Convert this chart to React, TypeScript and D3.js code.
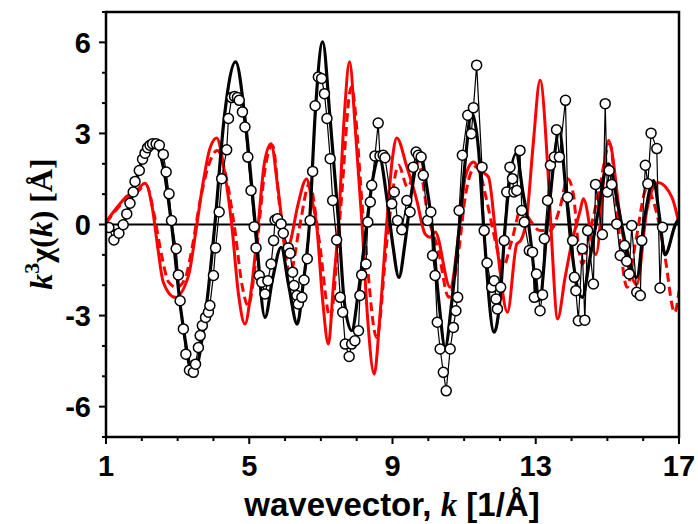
import React from "react";
import * as d3 from "d3";

// Experimental data (circles): k, value
const dataK = [1.08,1.22,1.36,1.48,1.58,1.67,1.76,1.81,1.93,2.02,2.09,2.16,2.23,2.30,2.40,2.49,2.60,2.68,2.76,2.83,2.96,3.02,3.07,3.16,3.23,3.33,3.44,3.50,3.58,3.63,3.69,3.78,3.86,3.90,4.00,4.06,4.16,4.23,4.37,4.42,4.51,4.59,4.67,4.72,4.81,4.88,4.96,5.05,5.14,5.19,5.28,5.35,5.44,5.52,5.61,5.68,5.72,5.79,5.89,5.95,6.09,6.14,6.21,6.25,6.33,6.37,6.47,6.53,6.62,6.70,6.77,6.84,6.93,7.02,7.10,7.17,7.26,7.33,7.44,7.54,7.61,7.68,7.79,7.86,7.95,8.05,8.09,8.14,8.26,8.31,8.38,8.42,8.51,8.60,8.65,8.74,8.79,8.98,9.05,9.14,9.26,9.40,9.49,9.58,9.66,9.72,9.80,9.86,9.98,10.07,10.12,10.19,10.25,10.33,10.42,10.50,10.61,10.70,10.77,10.82,10.86,10.95,11.10,11.20,11.26,11.35,11.50,11.56,11.64,11.77,11.84,11.89,11.93,12.02,12.12,12.19,12.28,12.35,12.39,12.47,12.56,12.61,12.68,12.82,12.91,12.96,13.02,13.12,13.19,13.24,13.33,13.41,13.52,13.58,13.66,13.83,13.89,14.03,14.08,14.12,14.19,14.30,14.37,14.45,14.61,14.67,14.86,14.94,15.00,15.05,15.12,15.26,15.36,15.48,15.54,15.61,15.68,15.82,15.92,15.96,16.06,16.13,16.22,16.38,16.47,16.54];
const dataV = [-0.10,-0.51,-0.29,-0.01,0.35,0.70,1.07,1.42,1.78,2.15,2.35,2.53,2.61,2.66,2.66,2.61,2.31,1.73,1.01,0.13,-0.80,-1.66,-2.51,-3.44,-4.27,-4.80,-4.87,-4.60,-4.05,-3.66,-3.33,-3.06,-2.89,-2.67,-1.68,-0.77,0.41,1.51,2.46,3.49,4.18,4.22,4.18,4.09,3.71,3.21,2.22,1.12,-0.07,-0.77,-1.68,-1.90,-2.29,-1.85,-1.30,-0.53,0.15,0.19,0.02,-0.29,-0.77,-0.95,-1.57,-2.01,-2.34,-2.62,-2.40,-1.83,-1.13,0.13,1.75,3.91,4.86,4.81,4.31,3.49,2.17,0.79,-0.51,-2.40,-2.89,-3.94,-4.35,-3.94,-3.83,-3.50,-2.34,-1.66,-1.30,0.08,0.74,1.29,2.26,3.34,2.26,2.28,2.20,0.68,1.07,0.13,-0.17,0.79,0.41,1.89,2.39,2.28,2.22,1.62,0.13,0.41,-1.02,-1.68,-3.22,-4.10,-4.87,-5.48,-4.10,-3.39,-2.84,-2.40,0.46,2.28,3.60,2.99,3.85,5.25,1.89,-0.20,-1.27,-2.07,-1.85,-2.45,-2.78,-2.07,-0.53,1.07,1.89,1.51,1.07,1.12,2.44,0.46,0.08,-0.86,-0.91,-2.40,-1.63,-2.84,-2.31,-0.47,0.79,1.95,2.22,3.12,2.22,4.09,0.90,-0.53,-1.74,-2.18,-3.17,-0.80,-3.15,-0.20,-1.96,1.32,-0.33,3.98,1.07,1.78,1.32,0.02,-1.02,-0.69,-1.21,-1.63,-0.03,-2.23,-2.34,-0.53,1.95,1.34,3.01,2.50,-2.09,-0.09];

// Black fit curve
const fitK = [1.0,1.25,1.45,1.6,1.9,2.28,2.6,2.83,3.1,3.45,3.75,4.04,4.3,4.62,4.9,5.17,5.44,5.65,5.89,6.1,6.34,6.5,6.68,6.85,7.05,7.25,7.5,7.65,7.86,8.05,8.28,8.45,8.63,8.85,9.0,9.18,9.35,9.5,9.77,9.95,10.1,10.3,10.47,10.65,10.87,11.05,11.2,11.4,11.54,11.84,12.0,12.15,12.45,12.65,12.8,13.1,13.35,13.66,13.85,14.0,14.3,14.5,14.68,15.03,15.3,15.5,15.82,16.05,16.29,16.45,16.61,16.9,17.0];
const fitV = [-0.08,-0.2,-0.05,0.4,1.7,2.77,1.9,0.0,-2.9,-4.9,-3.2,0.0,3.5,5.36,3.3,0.0,-3.06,-1.8,-0.75,-2.0,-3.28,-2.0,0.0,3.8,6.02,3.6,0.0,-2.5,-3.5,-2.2,0.0,1.5,2.22,0.8,-0.6,-1.74,-0.6,0.8,2.33,1.3,0.0,-2.6,-4.05,-2.6,0.0,2.3,3.71,2.5,0.0,-3.55,-2.5,0.0,2.33,1.0,0.0,-2.5,0.3,3.05,1.0,-0.8,-2.4,-1.2,0.0,2.0,0.6,-0.6,-1.74,0.3,1.45,0.3,-1.0,0.0,0.2];

// Red solid curve
const redK = [1.0,1.3,1.6,1.8,2.09,2.3,2.45,2.6,2.93,3.3,3.5,3.7,3.9,4.09,4.3,4.51,4.7,4.88,5.05,5.25,5.42,5.61,5.8,6.05,6.14,6.35,6.6,6.75,6.88,7.05,7.21,7.35,7.49,7.65,7.8,7.97,8.15,8.3,8.49,8.65,8.85,9.0,9.12,9.4,9.68,9.91,10.05,10.19,10.61,10.87,11.03,11.26,11.45,11.68,11.91,12.21,12.47,12.58,12.75,12.93,13.12,13.35,13.45,13.61,13.82,14.0,14.24,14.33,14.68,15.03,15.41,15.82,16.1,16.41,16.8,17.0];
const redV = [0.08,0.55,0.95,1.05,1.36,0.5,-0.8,-1.9,-2.4,-1.7,-0.3,1.3,2.5,2.85,1.8,0.0,-2.3,-3.28,-2.2,0.0,2.0,2.66,1.2,-0.86,-0.6,0.6,1.5,0.8,0.0,-2.5,-3.94,-2.0,0.0,3.5,5.36,3.0,0.0,-3.0,-4.93,-3.0,0.2,2.2,2.85,1.9,0.79,-0.31,-0.42,-0.25,-2.07,-0.09,1.56,2.06,1.78,1.56,-0.64,-2.89,-0.64,-0.53,0.24,2.66,4.75,1.56,-0.64,-3.11,-1.74,-0.64,0.46,0.85,-0.99,2.77,-0.2,-1.98,0.46,1.38,0.9,0.02];

// Red dashed curve
const dashK = [1.0,1.3,1.6,1.8,2.12,2.35,2.55,2.75,2.97,3.2,3.4,3.6,3.85,4.11,4.4,4.6,4.8,4.97,5.15,5.3,5.45,5.65,5.85,6.14,6.4,6.68,6.95,7.26,7.55,7.85,8.2,8.56,8.85,9.17,9.42,9.72,10.0,10.28,10.57,10.85,11.03,11.31,11.45,11.63,11.87,12.08,12.33,12.61,12.85,13.12,13.4,13.68,13.89,14.05,14.2,14.3,14.5,14.75,15.07,15.3,15.55,15.8,16.1,16.35,16.6,16.88,17.0];
const dashV = [0.05,0.5,0.9,1.0,1.3,0.3,-1.0,-1.9,-2.07,-1.8,-0.8,0.6,1.9,2.44,1.3,-0.2,-2.0,-2.67,-1.5,0.3,1.9,2.6,0.6,-1.63,-0.1,1.34,-0.5,-3.06,0.5,4.53,0.0,-3.72,-0.5,1.95,1.23,2.0,0.24,-0.86,-2.4,-0.86,0.9,1.9,1.67,0.79,-0.53,-1.41,-0.53,0.57,0.13,-0.2,-0.2,0.57,1.51,1.0,-0.8,-1.3,-0.3,1.0,2.66,0.0,-2.07,-0.5,1.18,0.5,-1.0,-2.9,-2.2];

const xMajor = [1, 5, 9, 13, 17];
const yMajor = [-6, -3, 0, 3, 6];

export default function App() {
  const W = 698, H = 524;
  const x = d3.scaleLinear().domain([1, 17]).range([106, 679]);
  const y = d3.scaleLinear().domain([-7, 7]).range([437, 12]);

  const mk = (ks: number[], vs: number[]) => ks.map((k, i) => [k, vs[i]] as [number, number]);
  const smooth = d3.line<[number, number]>().x(d => x(d[0])).y(d => y(d[1])).curve(d3.curveMonotoneX);
  const straight = d3.line<[number, number]>().x(d => x(d[0])).y(d => y(d[1]));

  const data = mk(dataK, dataV);
  const xMinor = d3.range(1, 18, 1);
  const yMinor = d3.range(-7, 8, 1);

  return (
    <svg width={W} height={H} style={{ position: "absolute", left: 0, top: 0, background: "#fff" }}>
      <defs>
        <clipPath id="plot">
          <rect x={106} y={12} width={573} height={425} />
        </clipPath>
      </defs>
      <rect x={0} y={0} width={W} height={H} fill="#fff" />
      <g clipPath="url(#plot)">
        <line x1={x(1)} x2={x(17)} y1={y(0)} y2={y(0)} stroke="#000" strokeWidth={2.2} />
        <path d={smooth(mk(dashK, dashV)) || ""} fill="none" stroke="#ff0000" strokeWidth={3} strokeDasharray="9,5" />
        <path d={smooth(mk(redK, redV)) || ""} fill="none" stroke="#ff0000" strokeWidth={3} />
        <path d={smooth(mk(fitK, fitV)) || ""} fill="none" stroke="#000" strokeWidth={3.2} />
        <path d={straight(data) || ""} fill="none" stroke="#000" strokeWidth={1.2} />
        {data.map((d, i) => (
          <circle key={i} cx={x(d[0])} cy={y(d[1])} r={5} fill="#fff" stroke="#000" strokeWidth={1.5} />
        ))}
      </g>
      <rect x={106} y={12} width={573} height={425} fill="none" stroke="#000" strokeWidth={2.5} />
      {xMinor.map(v => (
        <line key={"xm" + v} x1={x(v)} x2={x(v)} y1={437} y2={437 + (xMajor.includes(v) ? 7 : 4)} stroke="#000" strokeWidth={2} />
      ))}
      {yMinor.map(v => (
        <line key={"ym" + v} x1={106} x2={106 - (yMajor.includes(v) ? 7 : 4)} y1={y(v)} y2={y(v)} stroke="#000" strokeWidth={2} />
      ))}
      {xMajor.map(v => (
        <text key={"xl" + v} x={x(v)} y={476} textAnchor="middle" fontFamily="Liberation Sans, Arial, sans-serif" fontWeight="bold" fontSize={29}>{v}</text>
      ))}
      {yMajor.map(v => (
        <text key={"yl" + v} x={91} y={y(v)} dy="0.36em" textAnchor="end" fontFamily="Liberation Sans, Arial, sans-serif" fontWeight="bold" fontSize={29}>{v}</text>
      ))}
      <text x={392} y={516} textAnchor="middle" fontFamily="Liberation Sans, Arial, sans-serif" fontWeight="bold" fontSize={33}>
        wavevector, <tspan fontFamily="Liberation Serif, serif" fontStyle="italic">k</tspan> [1/Å]
      </text>
      <text transform="translate(52,224) rotate(-90)" textAnchor="middle" fontFamily="Liberation Serif, serif" fontWeight="bold" fontSize={32}>
        <tspan fontStyle="italic">k</tspan>
        <tspan fontSize={22} dy="-13">3</tspan>
        <tspan dy="13">χ(</tspan>
        <tspan fontStyle="italic">k</tspan>
        <tspan>) [Å]</tspan>
      </text>
    </svg>
  );
}
